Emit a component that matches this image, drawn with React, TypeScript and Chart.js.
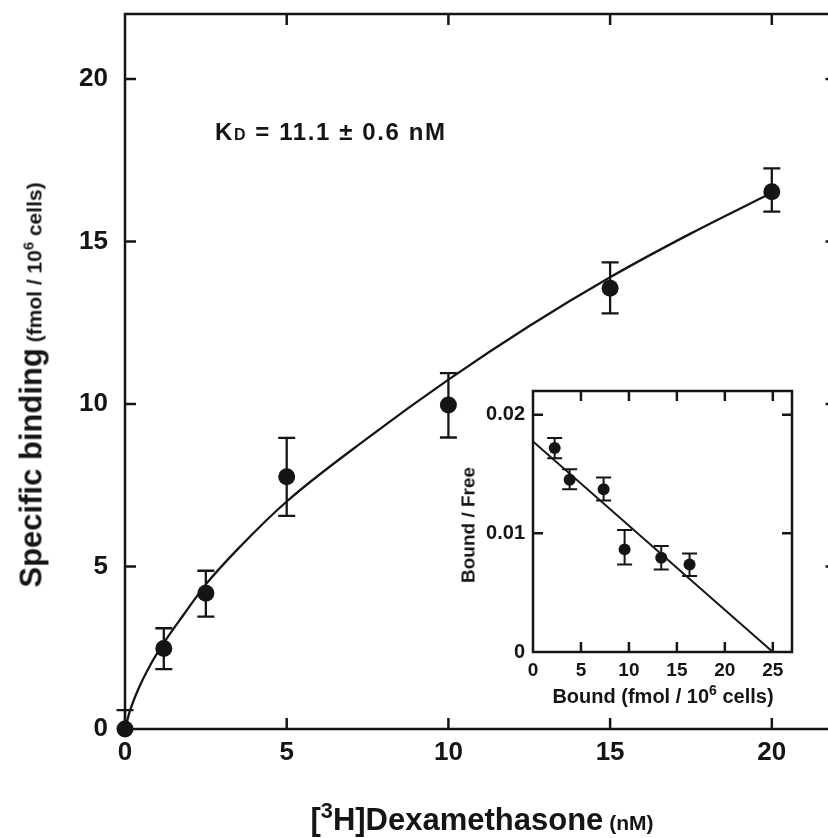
import React, { useEffect, useRef } from "react";
import { Chart, registerables } from "chart.js";

Chart.register(...registerables);

const FONT = "'Liberation Sans', Arial, Helvetica, sans-serif";
const INK = "#151515";

// ---- Main saturation plot ----
const concentration = [0, 1.2, 2.5, 5, 10, 15, 20];
const binding = [0, 2.48, 4.18, 7.76, 9.97, 13.56, 16.53];
const bindingLow = [0, 1.84, 3.46, 6.56, 8.97, 12.79, 15.92];
const bindingHigh = [0.58, 3.1, 4.87, 8.96, 10.95, 14.36, 17.25];
const fitX = [0, 0.15, 0.4, 0.8, 1.2, 1.8, 2.5, 3.5, 5, 7.5, 10, 12.5, 15, 17.5, 20];
const fitY = [0, 0.55, 1.2, 2.0, 2.65, 3.5, 4.45, 5.55, 7.0, 8.95, 10.75, 12.4, 13.9, 15.25, 16.5];
const mainXTicks = [0, 5, 10, 15, 20];
const mainYTicks = [0, 5, 10, 15, 20];
const mainXMax = 22;
const mainYMax = 22;

// ---- Scatchard inset ----
const bound = [2.26, 3.82, 7.36, 9.55, 13.37, 16.32];
const ratio = [0.01719, 0.01451, 0.01372, 0.00865, 0.00794, 0.00738];
const ratioLow = [0.01634, 0.01372, 0.01276, 0.00738, 0.00696, 0.0064];
const ratioHigh = [0.01803, 0.01541, 0.0147, 0.01028, 0.00893, 0.00831];
const lineX = [0, 25];
const lineY = [0.01775, 0];
const insetXTicks = [0, 5, 10, 15, 20, 25];
const insetYTicks = [0, 0.01, 0.02];
const insetYLabels = ["0", "0.01", "0.02"];
const insetXMax = 27;
const insetYMax = 0.022;

function makeFrame(id: string, xTicks: number[], yTicks: number[], len: number, lw: number) {
  return {
    id,
    afterDatasetsDraw(chart: any) {
      const { ctx, chartArea: a, scales } = chart;
      ctx.save();
      ctx.strokeStyle = INK;
      ctx.lineWidth = lw;
      ctx.strokeRect(a.left, a.top, a.right - a.left, a.bottom - a.top);
      ctx.beginPath();
      for (const v of xTicks) {
        if (v === scales.x.min) continue;
        const px = scales.x.getPixelForValue(v);
        ctx.moveTo(px, a.bottom);
        ctx.lineTo(px, a.bottom - len);
        ctx.moveTo(px, a.top);
        ctx.lineTo(px, a.top + len);
      }
      for (const v of yTicks) {
        if (v === scales.y.min) continue;
        const py = scales.y.getPixelForValue(v);
        ctx.moveTo(a.left, py);
        ctx.lineTo(a.left + len, py);
        ctx.moveTo(a.right, py);
        ctx.lineTo(a.right - len, py);
      }
      ctx.stroke();
      ctx.restore();
    },
  };
}

function makeErrorBars(id: string, xs: number[], lows: number[], highs: number[], cap: number, lw: number) {
  return {
    id,
    afterDatasetsDraw(chart: any) {
      const { ctx, chartArea: a, scales } = chart;
      ctx.save();
      ctx.beginPath();
      ctx.rect(a.left - 20, a.top, a.right - a.left + 40, a.bottom - a.top);
      ctx.clip();
      ctx.strokeStyle = INK;
      ctx.lineWidth = lw;
      ctx.beginPath();
      xs.forEach((x, i) => {
        const px = scales.x.getPixelForValue(x);
        const lo = scales.y.getPixelForValue(lows[i]);
        const hi = scales.y.getPixelForValue(highs[i]);
        ctx.moveTo(px, lo);
        ctx.lineTo(px, hi);
        ctx.moveTo(px - cap / 2, hi);
        ctx.lineTo(px + cap / 2, hi);
        if (lows[i] > scales.y.min) {
          ctx.moveTo(px - cap / 2, lo);
          ctx.lineTo(px + cap / 2, lo);
        }
      });
      ctx.stroke();
      ctx.restore();
    },
  };
}

const zeroPad = (s: any) => {
  s.paddingLeft = 0;
  s.paddingRight = 0;
  s.paddingTop = 0;
  s.paddingBottom = 0;
};

const supStyle: React.CSSProperties = {
  fontSize: "0.7em",
  position: "relative",
  top: "-0.55em",
  verticalAlign: "baseline",
};

export default function App() {
  const mainRef = useRef<HTMLCanvasElement>(null);
  const insetRef = useRef<HTMLCanvasElement>(null);

  useEffect(() => {
    const main = new Chart(mainRef.current as HTMLCanvasElement, {
      type: "scatter",
      data: {
        datasets: [
          {
            data: concentration.map((x, i) => ({ x, y: binding[i] })),
            pointRadius: 8.5,
            pointHoverRadius: 8.5,
            backgroundColor: INK,
            borderWidth: 0,
            showLine: false,
            clip: false,
          } as any,
          {
            type: "line",
            data: fitX.map((x, i) => ({ x, y: fitY[i] })),
            borderColor: INK,
            borderWidth: 2.3,
            pointRadius: 0,
            fill: false,
            showLine: true,
            cubicInterpolationMode: "monotone",
          } as any,
        ],
      },
      options: {
        responsive: false,
        animation: false,
        events: [],
        layout: { padding: { top: 14, right: 8, bottom: 0, left: 0 } },
        plugins: { legend: { display: false }, tooltip: { enabled: false } },
        scales: {
          x: {
            type: "linear",
            min: 0,
            max: mainXMax,
            grid: { display: false, drawTicks: false },
            border: { display: false },
            afterBuildTicks: (s: any) => {
              s.ticks = mainXTicks.map((v) => ({ value: v }));
            },
            afterFit: (s: any) => {
              s.height = 109;
              zeroPad(s);
            },
            ticks: {
              font: { family: FONT, size: 26, weight: "bold" },
              color: INK,
              padding: 8,
              maxRotation: 0,
              autoSkip: false,
              callback: (v: any) => String(v),
            },
          },
          y: {
            type: "linear",
            min: 0,
            max: mainYMax,
            grid: { display: false, drawTicks: false },
            border: { display: false },
            afterBuildTicks: (s: any) => {
              s.ticks = mainYTicks.map((v) => ({ value: v }));
            },
            afterFit: (s: any) => {
              s.width = 125;
              zeroPad(s);
            },
            ticks: {
              font: { family: FONT, size: 26, weight: "bold" },
              color: INK,
              padding: 17,
              autoSkip: false,
              callback: (v: any) => String(v),
            },
          },
        },
      } as any,
      plugins: [
        makeErrorBars("mainErr", concentration, bindingLow, bindingHigh, 17, 2.3),
        makeFrame("mainFrame", mainXTicks, mainYTicks, 11, 2.5),
      ],
    });

    const inset = new Chart(insetRef.current as HTMLCanvasElement, {
      type: "scatter",
      data: {
        datasets: [
          {
            data: bound.map((x, i) => ({ x, y: ratio[i] })),
            pointRadius: 6,
            pointHoverRadius: 6,
            backgroundColor: INK,
            borderWidth: 0,
            showLine: false,
            clip: false,
          } as any,
          {
            type: "line",
            data: lineX.map((x, i) => ({ x, y: lineY[i] })),
            borderColor: INK,
            borderWidth: 2,
            pointRadius: 0,
            fill: false,
            showLine: true,
          } as any,
        ],
      },
      options: {
        responsive: false,
        animation: false,
        events: [],
        layout: { padding: { top: 11, right: 8, bottom: 0, left: 0 } },
        plugins: { legend: { display: false }, tooltip: { enabled: false } },
        scales: {
          x: {
            type: "linear",
            min: 0,
            max: insetXMax,
            grid: { display: false, drawTicks: false },
            border: { display: false },
            afterBuildTicks: (s: any) => {
              s.ticks = insetXTicks.map((v) => ({ value: v }));
            },
            afterFit: (s: any) => {
              s.height = 58;
              zeroPad(s);
            },
            ticks: {
              font: { family: FONT, size: 19, weight: "bold" },
              color: INK,
              padding: 7,
              maxRotation: 0,
              autoSkip: false,
              callback: (v: any) => String(v),
            },
          },
          y: {
            type: "linear",
            min: 0,
            max: insetYMax,
            grid: { display: false, drawTicks: false },
            border: { display: false },
            afterBuildTicks: (s: any) => {
              s.ticks = insetYTicks.map((v) => ({ value: v }));
            },
            afterFit: (s: any) => {
              s.width = 93;
              zeroPad(s);
            },
            ticks: {
              font: { family: FONT, size: 20, weight: "bold" },
              color: INK,
              padding: 8,
              autoSkip: false,
              callback: (v: any) => {
                const i = insetYTicks.indexOf(v);
                return i >= 0 ? insetYLabels[i] : "";
              },
            },
          },
        },
      } as any,
      plugins: [
        makeErrorBars("insetErr", bound, ratioLow, ratioHigh, 15, 2),
        makeFrame("insetFrame", insetXTicks, insetYTicks, 10, 2.5),
      ],
    });

    return () => {
      main.destroy();
      inset.destroy();
    };
  }, []);

  return (
    <div
      style={{
        position: "fixed",
        left: 0,
        top: 0,
        width: 828,
        height: 838,
        overflow: "hidden",
        background: "#fff",
        fontFamily: FONT,
        color: INK,
      }}
    >
      <canvas
        ref={mainRef}
        width={845}
        height={838}
        style={{ position: "absolute", left: 0, top: 0, width: 845, height: 838 }}
      />
      <canvas
        ref={insetRef}
        width={360}
        height={330}
        style={{ position: "absolute", left: 440, top: 380, width: 360, height: 330 }}
      />

      {/* KD annotation */}
      <div
        style={{
          position: "absolute",
          left: 215,
          top: 120,
          fontSize: 24,
          fontWeight: "bold",
          lineHeight: 1,
          letterSpacing: "1.6px",
          whiteSpace: "nowrap",
        }}
      >
        K<span style={{ fontSize: 16 }}>D</span> = 11.1 ± 0.6 nM
      </div>

      {/* Main y-axis title */}
      <div style={{ position: "absolute", left: 31, top: 385, width: 0, height: 0 }}>
        <div
          style={{
            position: "absolute",
            left: 0,
            top: 0,
            transform: "translate(-50%, -50%) rotate(-90deg)",
            whiteSpace: "nowrap",
            fontWeight: "bold",
            lineHeight: 1,
            fontSize: 31,
          }}
        >
          Specific binding
          <span style={{ fontSize: 21 }}>
            {" "}(fmol / 10<span style={supStyle}>6</span> cells)
          </span>
        </div>
      </div>

      {/* Main x-axis title */}
      <div
        style={{
          position: "absolute",
          left: 482,
          top: 804,
          transform: "translateX(-50%)",
          whiteSpace: "nowrap",
          fontWeight: "bold",
          lineHeight: 1,
          fontSize: 31,
        }}
      >
        [<span style={supStyle}>3</span>H]Dexamethasone
        <span style={{ fontSize: 21 }}> (nM)</span>
      </div>

      {/* Inset x-axis title */}
      <div
        style={{
          position: "absolute",
          left: 663,
          top: 686,
          transform: "translateX(-50%)",
          whiteSpace: "nowrap",
          fontWeight: "bold",
          lineHeight: 1,
          fontSize: 20,
        }}
      >
        Bound (fmol / 10<span style={supStyle}>6</span> cells)
      </div>

      {/* Inset y-axis title */}
      <div style={{ position: "absolute", left: 468, top: 525, width: 0, height: 0 }}>
        <div
          style={{
            position: "absolute",
            left: 0,
            top: 0,
            transform: "translate(-50%, -50%) rotate(-90deg)",
            whiteSpace: "nowrap",
            fontWeight: "bold",
            lineHeight: 1,
            fontSize: 19,
          }}
        >
          Bound / Free
        </div>
      </div>
    </div>
  );
}
